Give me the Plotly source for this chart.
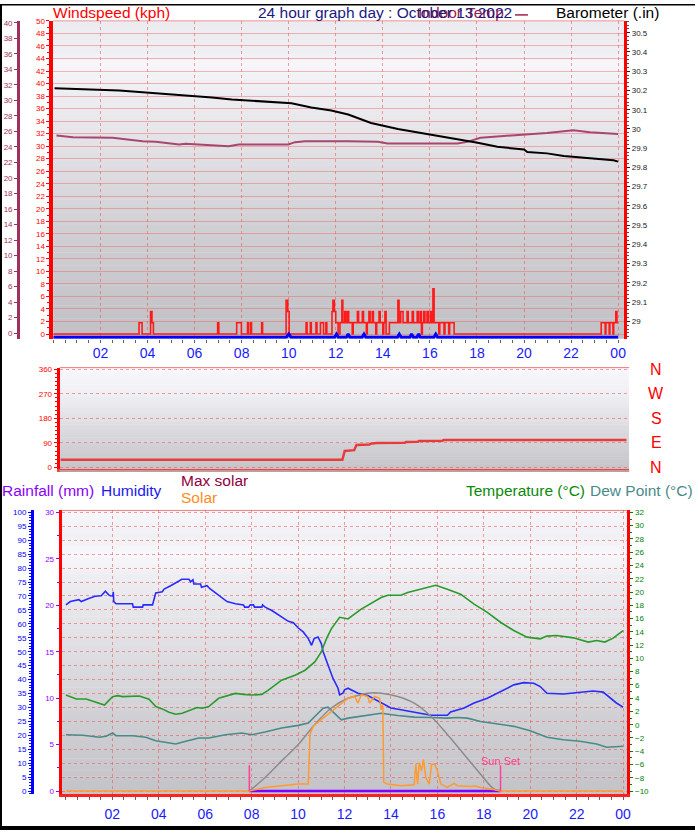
import plotly.graph_objects as go

W, H = 699, 833
def X(px): return px / W
def Y(px): return 1 - px / H

# ---------------- DATA ----------------
hour_tick_vals = [2, 4, 6, 8, 10, 12, 14, 16, 18, 20, 22, 24]
hour_tick_text = ["02", "04", "06", "08", "10", "12", "14", "16", "18", "20", "22", "00"]

# Barometer (inHg)
baro_h = [0.05, 1.82, 2.80, 3.93, 4.78, 5.89, 6.74, 7.58, 8.16, 9.00, 9.85, 10.12, 10.96, 11.81, 12.53,
          13.00, 13.50, 14.64, 16.05, 16.76, 18.03, 18.87, 20.00, 20.14, 20.98, 21.69, 22.39, 23.10, 23.80, 24.00]
baro = [30.211, 30.206, 30.200, 30.189, 30.182, 30.172, 30.163, 30.153, 30.149, 30.141, 30.138, 30.134, 30.112,
        30.096, 30.075, 30.052, 30.031, 30.000, 29.971, 29.954, 29.928, 29.907, 29.893, 29.880, 29.873, 29.859,
        29.851, 29.842, 29.837, 29.830]

# Indoor temperature (deg C)
indoor_h = [0.13, 0.83, 2.52, 3.08, 3.79, 4.35, 4.91, 5.34, 5.62, 6.18, 6.74, 7.45, 7.87, 9.98, 10.27,
            10.69, 12.52, 13.79, 14.21, 17.17, 17.59, 18.15, 19.0, 19.99, 20.97, 22.10, 22.80, 24.0]
indoor = [25.47, 25.26, 25.18, 24.96, 24.75, 24.66, 24.45, 24.32, 24.41, 24.32, 24.19, 24.11, 24.32, 24.32,
          24.62, 24.75, 24.75, 24.66, 24.45, 24.45, 24.66, 25.18, 25.39, 25.6, 25.81, 26.16, 25.9, 25.69]

# Wind gust (kph), step readings: value holds until the next reading
gust_h = [0.00, 3.64, 3.77, 4.13, 4.19, 4.25, 6.98, 7.03, 7.79, 7.99, 8.25, 8.29, 8.38, 8.42, 8.85, 8.89,
          9.89, 9.96, 10.02, 10.74, 10.78, 10.92, 10.96, 11.16, 11.20, 11.35, 11.48, 11.58, 11.62,
          11.84, 11.88, 11.94, 12.00, 12.10, 12.18, 12.26, 12.30, 12.38, 12.43, 12.50, 12.55, 12.70,
          12.74, 12.92, 12.97, 13.13, 13.18, 13.30, 13.34, 13.41, 13.46, 13.55, 13.60, 13.70, 13.74,
          13.84, 13.89, 14.00, 14.04, 14.09, 14.14, 14.28, 14.64, 14.69, 14.76, 14.86, 15.03, 15.08,
          15.25, 15.30, 15.46, 15.51, 15.59, 15.64, 15.68, 15.74, 15.79, 15.88, 15.93, 16.02, 16.07,
          16.13, 16.18, 16.38, 16.42, 16.60, 16.64, 16.80, 16.84, 17.03,
          23.28, 23.45, 23.48, 23.62, 23.65, 23.78, 23.81, 23.90, 23.95, 24.00]
gust = [0, 1.8, 0, 3.6, 1.8, 0, 1.8, 0, 1.8, 0, 1.8, 0, 1.8, 0, 1.8, 0,
        5.4, 3.6, 0, 1.8, 0, 1.8, 0, 1.8, 0, 1.8, 0, 1.8, 0,
        3.6, 5.4, 3.6, 1.8, 0, 1.8, 5.4, 1.8, 3.6, 1.8, 3.6, 1.8, 0,
        1.8, 3.6, 1.8, 3.6, 1.8, 0, 1.8, 3.6, 1.8, 3.6, 1.8, 0, 1.8,
        3.6, 1.8, 0, 1.8, 3.6, 0, 1.8, 5.4, 1.8, 3.6, 1.8, 3.6, 1.8,
        3.6, 1.8, 3.6, 1.8, 3.6, 0, 1.8, 3.6, 1.8, 3.6, 1.8, 3.6, 1.8,
        7.2, 1.8, 0, 1.8, 0, 1.8, 0, 1.8, 0,
        1.8, 0, 1.8, 0, 1.8, 0, 1.8, 3.6, 1.8, 1.8]

# Average wind (kph)
wavg_h = [0, 9.90, 10.00, 10.10, 11.95, 12.03, 12.11, 12.45, 12.53, 12.60, 13.12, 13.20, 13.28, 14.62,
          14.70, 14.78, 15.15, 15.22, 15.30, 15.45, 15.52, 15.60, 16.17, 16.25, 16.33, 24.0]
wavg = [0, 0, 0.5, 0, 0, 0.5, 0, 0, 0.5, 0, 0, 0.5, 0, 0, 0.5, 0, 0, 0.5, 0, 0, 0.5, 0, 0, 0.5, 0, 0]

# Wind direction (degrees)
dir_h = [0, 11.95, 12.05, 12.45, 12.55, 13.10, 13.15, 13.40, 14.60, 14.65, 15.15, 15.20, 16.20, 16.25, 24.0]
wdir = [27.6, 27.6, 60, 63, 82, 84, 87, 89, 90, 93, 94, 97, 98, 100, 100]
dir_letters = ["N", "W", "S", "E", "N"]
dir_letter_deg = [360, 270, 180, 90, 0]

# Humidity (%)
hum_h = [0, 0.19, 0.56, 0.66, 1.01, 1.26, 1.52, 1.70, 1.84, 1.91, 2.02, 2.04, 2.06, 2.16, 2.87, 2.90, 3.30,
         3.33, 3.73, 3.76, 3.87, 4.15, 4.23, 4.51, 4.66, 4.87, 4.99, 5.30, 5.37, 5.47, 5.51, 5.80, 5.84, 6.08,
         6.19, 6.58, 6.94, 7.30, 7.65, 7.70, 7.87, 7.94, 8.08, 8.12, 8.44, 8.47, 8.58, 8.87, 9.08, 9.37, 9.58,
         9.80, 10.01, 10.22, 10.44, 10.58, 10.69, 10.86, 11.00, 11.08, 11.29, 11.50, 11.72, 11.79, 11.93,
         12.00, 12.15, 12.58, 13.00, 13.58, 14.00, 14.43, 15.00, 15.72, 16.43, 16.57, 17.15, 17.58, 18.15,
         18.58, 19.00, 19.29, 19.72, 20.15, 20.43, 20.72, 21.43, 22.14, 22.71, 23.14, 23.43, 23.71, 24.00]
hum = [66.8, 68.0, 68.7, 68.0, 69.2, 69.9, 70.1, 71.7, 70.4, 70.1, 70.0, 71.5, 68.0, 67.2, 67.2, 66.0, 66.0,
       66.8, 66.8, 67.8, 71.1, 71.5, 72.5, 73.7, 74.3, 75.4, 76.0, 76.0, 75.1, 75.8, 74.3, 74.3, 73.1, 73.7,
       72.7, 70.4, 68.0, 67.2, 66.8, 66.0, 66.0, 66.8, 66.8, 66.0, 66.0, 66.8, 66.0, 64.8, 63.6, 61.8, 60.9,
       60.4, 58.5, 57.1, 54.7, 52.3, 54.7, 55.3, 52.9, 50.0, 45.2, 40.5, 36.9, 34.5, 35.1,
       36.3, 36.9, 35.1, 34.3, 31.6, 29.8, 29.2, 28.4, 27.2, 27.2, 28.4, 29.8, 31.6, 33.3,
       35.1, 36.9, 38.1, 38.9, 38.7, 37.5, 35.1, 34.8, 35.4, 35.9, 35.5, 33.6, 31.6, 30.1]

# Temperature (deg C)
temp_h = [0, 0.16, 0.45, 0.87, 1.16, 1.44, 1.66, 1.80, 2.01, 2.23, 2.44, 3.16, 3.58, 3.87, 4.15, 4.44, 4.73,
          5.01, 5.30, 5.65, 5.87, 6.15, 6.58, 7.01, 7.30, 7.65, 8.01, 8.44, 8.72, 9.29, 9.87, 10.30, 10.72,
          11.00, 11.22, 11.43, 11.79, 12.01, 12.15, 12.72, 13.58, 13.86, 14.43, 14.72, 15.29, 15.93, 16.43,
          17.00, 17.58, 18.15, 18.72, 19.29, 19.86, 20.43, 20.72, 21.14, 21.86, 22.50, 22.86, 23.21, 23.57, 24.00]
temp = [4.47, 4.23, 3.87, 3.87, 3.57, 3.23, 2.97, 3.48, 4.23, 4.38, 4.23, 4.32, 3.83, 2.74, 2.38, 1.88, 1.58,
        1.73, 2.08, 2.59, 2.48, 2.74, 3.98, 4.47, 4.72, 4.57, 4.47, 4.57, 5.22, 6.71, 7.46, 8.21, 9.46,
        10.96, 12.94, 14.44, 16.19, 16.04, 15.93, 17.43, 19.18, 19.52, 19.52, 19.93, 20.42, 21.02, 20.42,
        19.67, 18.18, 16.94, 15.44, 14.19, 13.2, 12.94, 13.35, 13.44, 13.09, 12.45, 12.69, 12.45, 13.05, 14.19]

# Dew point (deg C)
dew_h = [0, 0.73, 1.44, 1.73, 2.01, 2.16, 2.87, 3.44, 3.87, 4.30, 4.73, 5.16, 5.73, 6.15, 6.87, 7.58, 8.01,
         8.58, 9.29, 10.01, 10.44, 10.72, 11.08, 11.29, 11.58, 11.86, 12.15, 12.58, 13.00, 13.58, 14.29,
         15.00, 15.72, 16.43, 16.86, 17.29, 17.86, 18.58, 19.29, 20.00, 20.72, 21.43, 22.14, 22.86, 23.29, 24.00]
dew = [-1.51, -1.6, -1.9, -1.75, -1.26, -1.66, -1.66, -1.9, -2.41, -2.65, -2.9, -2.5, -2.0, -2.0, -1.51,
       -1.26, -1.51, -1.11, -0.51, -0.1, 0.24, 1.24, 2.48, 2.63, 1.73, 0.73, 0.99, 1.24, 1.48, 1.73, 1.39,
       1.14, 1.09, 0.99, 1.09, 0.99, 0.49, 0.09, -0.25, -0.91, -1.9, -2.26, -2.5, -2.9, -3.39, -3.24]

# Max solar and solar (W/m2)
msol_h = [7.90, 8.58, 9.29, 10.01, 10.72, 11.43, 12.15, 12.58, 13.00, 13.58, 14.29, 15.00, 15.72, 16.43,
          17.15, 17.86, 18.43, 18.72]
msol = [0, 86, 191, 295, 421, 526, 588, 605, 620, 620, 599, 557, 474, 358, 232, 107, 13, 0]

sol_h = [0, 7.90, 8.58, 9.29, 10.01, 10.44, 10.51, 10.65, 11.43, 12.15, 12.44, 12.58, 12.72, 13.00, 13.08,
         13.29, 13.51, 13.58, 13.65, 13.69, 13.86, 14.43, 15.00, 15.07, 15.15, 15.22, 15.32, 15.40, 15.50,
         15.65, 15.75, 15.89, 16.00, 16.15, 16.43, 16.72, 16.86, 17.43, 17.58, 17.86, 18.29, 18.72, 24.0]
sol = [0, 0, 23, 34, 44, 44, 358, 411, 505, 588, 599, 557, 609, 599, 557, 599, 588, 515, 546, 55, 44, 34, 40,
       170, 44, 180, 128, 201, 86, 44, 170, 170, 128, 44, 23, 48, 34, 28, 34, 23, 13, 0, 0]

# Rainfall (mm)
rain_h = [7.90, 18.72]
rain = [0, 0]

sunrise = 7.90
sunset = 18.72

# ---------------- FIGURE ----------------
FONT = "Liberation Sans"
fig = go.Figure()

# Top panel
fig.add_trace(go.Scatter(x=indoor_h, y=indoor, xaxis="x", yaxis="y2", mode="lines",
                         line=dict(color="#a8466e", width=2)))
fig.add_trace(go.Scatter(x=baro_h, y=baro, xaxis="x", yaxis="y3", mode="lines",
                         line=dict(color="#000000", width=2)))
fig.add_trace(go.Scatter(x=gust_h, y=gust, xaxis="x", yaxis="y", mode="lines",
                         line=dict(color="#ff1a1a", width=1.6, shape="hv")))
fig.add_trace(go.Scatter(x=wavg_h, y=wavg, xaxis="x", yaxis="y4", mode="lines",
                         line=dict(color="#0000ff", width=3)))
# Middle panel
fig.add_trace(go.Scatter(x=dir_h, y=wdir, xaxis="x2", yaxis="y5", mode="lines",
                         line=dict(color="#e83c3c", width=2.5)))
# Bottom panel
fig.add_trace(go.Scatter(x=msol_h, y=msol, xaxis="x3", yaxis="y9", mode="lines",
                         line=dict(color="#8c8c8c", width=1.5, shape="spline")))
fig.add_trace(go.Scatter(x=sol_h, y=sol, xaxis="x3", yaxis="y9", mode="lines",
                         line=dict(color="#ff9a30", width=1.5)))
fig.add_trace(go.Scatter(x=rain_h, y=rain, xaxis="x3", yaxis="y6", mode="lines",
                         line=dict(color="#8000ff", width=2.5)))
fig.add_trace(go.Scatter(x=dew_h, y=dew, xaxis="x3", yaxis="y8", mode="lines",
                         line=dict(color="#4a8a8a", width=1.6)))
fig.add_trace(go.Scatter(x=temp_h, y=temp, xaxis="x3", yaxis="y8", mode="lines",
                         line=dict(color="#2a9a2a", width=1.6)))
fig.add_trace(go.Scatter(x=hum_h, y=hum, xaxis="x3", yaxis="y7", mode="lines",
                         line=dict(color="#2a2aff", width=1.6)))

GRID_V = "rgba(235,80,80,0.55)"
GRID_H = "rgba(235,100,100,0.45)"
tickfont = lambda c: dict(family=FONT, size=8, color=c)
xlabfont = dict(family=FONT, size=14, color="#1a1aff")

# geometry
TOP_T, TOP_B = 17, 337.5
MID_T, MID_B = 366.7, 469.3
BOT_T, BOT_B = 510.7, 797

layout = dict(
    width=W, height=H, autosize=False, showlegend=False,
    margin=dict(l=0, r=0, t=0, b=0),
    paper_bgcolor="white", plot_bgcolor="rgba(0,0,0,0)",
    font=dict(family=FONT),
    # --- top panel
    xaxis=dict(domain=[X(53.5), X(627.7)], range=[-0.008, 24.254], anchor="y",
               tickmode="array", tickvals=hour_tick_vals, ticktext=hour_tick_text,
               tickfont=xlabfont, ticks="outside", ticklen=3, tickcolor="#606060",
               ticklabelstandoff=-1,
               minor=dict(dtick=0.5, tick0=0, ticks="outside", ticklen=3, tickcolor="#606060", showgrid=False),
               showgrid=True, gridcolor=GRID_V, griddash="dot", gridwidth=1,
               showline=False, zeroline=False),
    yaxis=dict(domain=[Y(TOP_B), Y(TOP_T)], range=[-0.744, 50.01], anchor="x",
               tickmode="linear", tick0=0, dtick=2, tickfont=tickfont("#ff0000"),
               ticks="outside", ticklen=3, tickcolor="#ff0000",
               minor=dict(dtick=1, ticks="outside", ticklen=2, tickcolor="#ff0000", showgrid=False),
               showgrid=True, gridcolor=GRID_H, gridwidth=1,
               showline=True, linecolor="#ff0000", linewidth=3.5, zeroline=False),
    yaxis2=dict(overlaying="y", anchor="free", position=X(18), side="left",
                range=[-0.703, 40.256], tickmode="linear", tick0=0, dtick=2,
                tickfont=tickfont("#a0305a"), ticks="outside", ticklen=3, tickcolor="#a0305a",
                showgrid=False, showline=True, linecolor="#a0305a", linewidth=2.5, zeroline=False),
    yaxis3=dict(overlaying="y", anchor="x", side="right", range=[28.9098, 30.5619],
                tickmode="linear", tick0=29, dtick=0.1, tickfont=tickfont("#202020"),
                ticks="outside", ticklen=3, tickcolor="#202020",
                minor=dict(dtick=0.02, ticks="outside", ticklen=2, tickcolor="#505050", showgrid=False),
                showgrid=False, showline=True, linecolor="#ff0000", linewidth=3, zeroline=False),
    yaxis4=dict(overlaying="y", anchor="x", range=[-0.2375, 50.507], visible=False),
    # --- middle panel
    xaxis2=dict(domain=[X(60), X(632.7)], range=[-0.042, 24.112], anchor="y5",
                showticklabels=False, ticks="", showgrid=False, zeroline=False,
                showline=True, linecolor="#f04040", linewidth=3),
    yaxis5=dict(domain=[Y(MID_B), Y(MID_T)], range=[-7.27, 365.8], anchor="x2",
                tickmode="linear", tick0=0, dtick=90, tickfont=tickfont("#ff0000"),
                ticks="outside", ticklen=3, tickcolor="#ff0000",
                minor=dict(dtick=15, ticks="outside", ticklen=2, tickcolor="#ff0000", showgrid=False),
                showgrid=True, gridcolor=GRID_V, griddash="dot", gridwidth=1,
                showline=True, linecolor="#ff0000", linewidth=3, zeroline=False),
    # --- bottom panel
    xaxis3=dict(domain=[X(62), X(631)], range=[-0.184, 24.184], anchor="y6",
                tickmode="array", tickvals=hour_tick_vals, ticktext=hour_tick_text,
                tickfont=xlabfont, ticks="outside", ticklen=3, tickcolor="#606060",
                ticklabelstandoff=2,
                minor=dict(dtick=0.5, tick0=0, ticks="outside", ticklen=3, tickcolor="#606060", showgrid=False),
                showgrid=True, gridcolor=GRID_V, griddash="dot", gridwidth=1,
                showline=True, linecolor="#ff2020", linewidth=3, zeroline=False),
    yaxis6=dict(domain=[Y(BOT_B), Y(BOT_T)], range=[-0.352, 30.214], anchor="x3",
                tickmode="linear", tick0=0, dtick=5, tickfont=tickfont("#9000ff"),
                ticks="outside", ticklen=3, tickcolor="#9000ff",
                minor=dict(dtick=2.5, ticks="outside", ticklen=2, tickcolor="#9000ff", showgrid=False),
                showgrid=False, showline=True, linecolor="#ff0000", linewidth=3, zeroline=False),
    yaxis7=dict(overlaying="y6", anchor="free", position=X(32), side="left",
                range=[-1.174, 100.712], tickmode="linear", tick0=0, dtick=5,
                tickfont=tickfont("#0000ff"), ticks="outside", ticklen=3, tickcolor="#0000ff",
                minor=dict(dtick=1, ticks="outside", ticklen=2, tickcolor="#0000ff", showgrid=False),
                showgrid=True, gridcolor=GRID_V, griddash="dot", gridwidth=1,
                showline=True, linecolor="#0000ff", linewidth=2.5, zeroline=False),
    yaxis8=dict(overlaying="y6", anchor="x3", side="right", range=[-10.493, 32.299],
                tickmode="linear", tick0=0, dtick=2, tickfont=tickfont("#008000"),
                ticks="outside", ticklen=3, tickcolor="#008000",
                minor=dict(dtick=1, ticks="outside", ticklen=2, tickcolor="#008000", showgrid=False),
                showgrid=False, showline=True, linecolor="#ff0000", linewidth=3, zeroline=False),
    yaxis9=dict(overlaying="y6", anchor="x3", range=[-20.7, 1777.2], visible=False),
)
fig.update_layout(**layout)

# ---------------- background gradients ----------------
def interp(stops, f):
    for (f0, v0), (f1, v1) in zip(stops[:-1], stops[1:]):
        if f0 <= f <= f1:
            return v0 + (v1 - v0) * (f - f0) / (f1 - f0)
    return stops[-1][1]

shapes = []
def gradient(x0, x1, y0, y1, stops, n=48):
    for i in range(n):
        a = y0 + (y1 - y0) * i / n
        b = y0 + (y1 - y0) * (i + 1) / n
        v = interp(stops, (i + 0.5) / n)
        c = f"rgb({int(v)},{int(v)},{min(255, int(v) + 4)})"
        shapes.append(dict(type="rect", xref="paper", yref="paper", x0=X(x0), x1=X(x1),
                           y0=Y(b), y1=Y(a) + 0.0005, fillcolor=c, line=dict(width=0), layer="below"))

gradient(53.5, 627.7, TOP_T, TOP_B, [(0, 236), (0.11, 240), (0.14, 248), (0.19, 241), (0.45, 223),
                                     (0.65, 209), (0.85, 200), (1.0, 193)])
gradient(60, 632.7, MID_T, MID_B, [(0, 248), (0.25, 241), (0.55, 223), (1.0, 197)])
gradient(62, 631, BOT_T, BOT_B, [(0, 247), (0.1, 241), (0.15, 249), (0.25, 237), (0.5, 223),
                                 (0.75, 208), (1.0, 196)])

# panel borders
shapes.append(dict(type="line", xref="paper", yref="paper", x0=X(53.5), x1=X(627.7), y0=Y(TOP_T), y1=Y(TOP_T),
                   line=dict(color="rgba(240,90,90,0.6)", width=1)))
shapes.append(dict(type="line", xref="paper", yref="paper", x0=X(60), x1=X(632.7), y0=Y(MID_T), y1=Y(MID_T),
                   line=dict(color="rgba(240,90,90,0.8)", width=1)))
shapes.append(dict(type="line", xref="paper", yref="paper", x0=X(60), x1=X(633), y0=Y(471), y1=Y(471),
                   line=dict(color="#b8b8b8", width=1.5)))
shapes.append(dict(type="line", xref="paper", yref="paper", x0=X(62), x1=X(631), y0=Y(BOT_T), y1=Y(BOT_T),
                   line=dict(color="rgba(240,90,90,0.8)", width=1)))
# sunrise / sunset markers
for t in (sunrise, sunset):
    shapes.append(dict(type="line", xref="x3", yref="paper", x0=t, x1=t, y0=Y(793.7), y1=Y(767.7),
                       line=dict(color="#ff40a0", width=1.5)))
# legend dash for indoor temp
shapes.append(dict(type="line", xref="paper", yref="paper", x0=X(518), x1=X(531), y0=Y(11), y1=Y(11),
                   line=dict(color="#a0204a", width=1.5)))
# black frame
shapes.append(dict(type="rect", xref="paper", yref="paper", x0=0, x1=X(2), y0=0, y1=1,
                   fillcolor="black", line=dict(width=0)))
shapes.append(dict(type="rect", xref="paper", yref="paper", x0=0, x1=1, y0=Y(833), y1=Y(829),
                   fillcolor="black", line=dict(width=0)))
shapes.append(dict(type="rect", xref="paper", yref="paper", x0=0, x1=1, y0=Y(1.5), y1=1,
                   fillcolor="black", line=dict(width=0)))
fig.update_layout(shapes=shapes)

# ---------------- texts ----------------
anns = []
def ann(text, x, y, color, size=15.5, xanchor="left", xref="paper"):
    anns.append(dict(text=text, x=x if xref != "paper" else X(x), y=Y(y), xref=xref, yref="paper",
                     xanchor=xanchor, yanchor="middle", showarrow=False,
                     font=dict(family=FONT, size=size, color=color)))

ann("Windspeed (kph)", 51, 8.5, "#ff0000")
ann("Indoor Temp", 418, 8.5, "#a0204a")
ann("24 hour graph day : October 13 2022", 257, 8.5, "#1a1a80")
ann("Barometer (.in)", 557, 8.5, "#000000")
for letter, deg in zip(dir_letters, dir_letter_deg):
    ann(letter, 660, 467.3 - deg * 0.275, "#ff0000", size=16, xanchor="center")
ann("Rainfall (mm)", 0, 491, "#8a00ff")
ann("Humidity", 100, 491, "#1a1aee")
ann("Max solar", 180, 480.5, "#900040")
ann("Solar", 180, 497.5, "#ff8c1a")
ann("Temperature (°C)", 467, 491, "#0a8a0a")
ann("Dew Point (°C)", 591, 491, "#4a8a8a")
anns.append(dict(text="Sun Set", x=sunset, y=Y(763.5), xref="x3", yref="paper", xanchor="center",
                 yanchor="middle", showarrow=False, font=dict(family=FONT, size=11, color="#ff4090")))
fig.update_layout(annotations=anns)

fig.write_html("out.html", config={"displayModeBar": False},
               post_script="document.body.style.margin='0';document.body.style.overflow='hidden';")
